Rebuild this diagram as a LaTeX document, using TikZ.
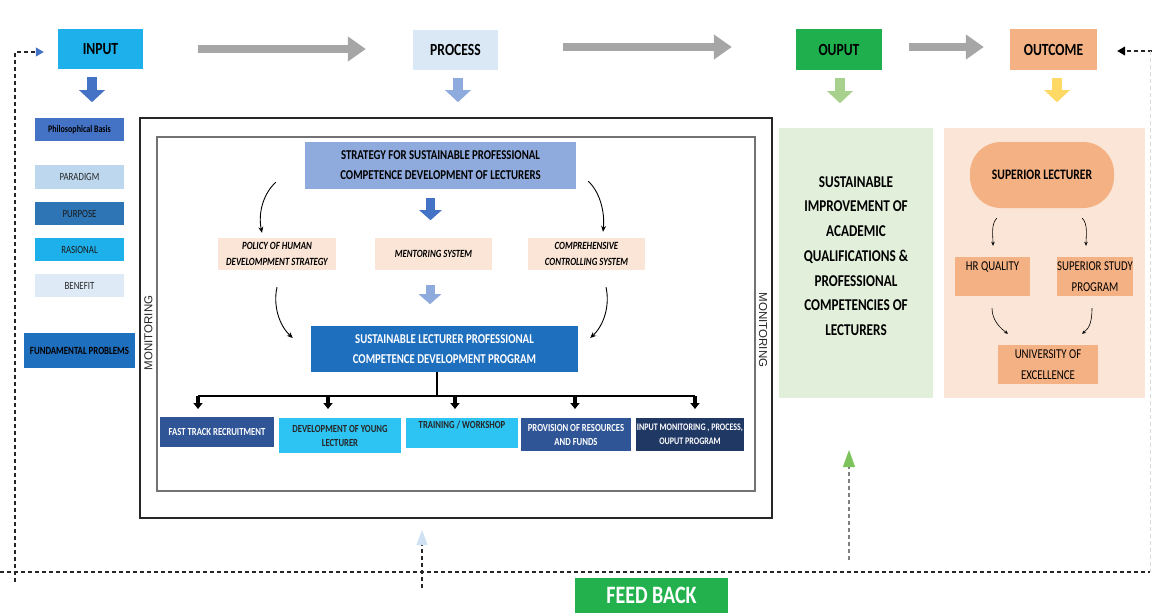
\documentclass[tikz,border=0pt]{standalone}
\usepackage{fontspec}
\setmainfont{Carlito}[FakeStretch=0.8]
\newfontfamily\monfont{Liberation Sans}
\usetikzlibrary{arrows.meta,calc}
\definecolor{cInput}{HTML}{1DB0EA}
\definecolor{cProc}{HTML}{DAE8F5}
\definecolor{cOut}{HTML}{1FAF4C}
\definecolor{cOutc}{HTML}{F4B183}
\definecolor{cGray}{HTML}{A6A6A6}
\definecolor{cA1}{HTML}{4472C4}
\definecolor{cA2}{HTML}{8FAADC}
\definecolor{cA3}{HTML}{A9D18E}
\definecolor{cA4}{HTML}{FFD966}
\definecolor{cPara}{HTML}{BDD7EE}
\definecolor{cPurp}{HTML}{2E75B6}
\definecolor{cBene}{HTML}{DEEBF7}
\definecolor{cFund}{HTML}{1F6FBF}
\definecolor{cStrat}{HTML}{8FAADC}
\definecolor{cPeach}{HTML}{FBE5D6}
\definecolor{cSus}{HTML}{1F6FBF}
\definecolor{cDark}{HTML}{2F5597}
\definecolor{cCyan}{HTML}{2DC3F3}
\definecolor{cNavy}{HTML}{203864}
\definecolor{cGreenReg}{HTML}{E2EFDA}
\definecolor{cFeed}{HTML}{22B14C}
\definecolor{cTipBlue}{HTML}{CFE2F3}
\definecolor{cTipGreen}{HTML}{7DC35B}
\newcommand{\fsz}[2]{\fontsize{#1pt}{#2pt}\selectfont}
\begin{document}
\begin{tikzpicture}[x=1pt,y=-1pt,
  bx/.style={inner sep=0pt, align=center},
  hdr/.style={bx, font=\fsz{17}{20}\bfseries},
  grayarr/.style={draw=cGray, line width=8pt, -{Triangle[width=24pt,length=18pt]}},
  blk/.style={line width=10pt, -{Triangle[width=25pt,length=12pt]}},
  blkm/.style={line width=9pt, -{Triangle[width=22pt,length=10pt]}},
  smallblk/.style={line width=3.5pt, -{Triangle[width=9pt,length=6pt]}, draw=black},
  curv/.style={-{Stealth[length=6pt,width=5pt]}, line width=0.9pt},
  curvs/.style={-{Stealth[length=4pt,width=3.5pt]}, line width=0.6pt},
  dsh/.style={dash pattern=on 4pt off 3pt, line width=1.1pt, draw=black!85},
  pch/.style={bx, fill=cPeach, minimum width=117pt, minimum height=32pt, font=\fsz{11}{16}\bfseries\itshape},
  bot/.style={bx, font=\fsz{10.8}{14}\bfseries},
  lft/.style={bx, minimum width=89pt, minimum height=23pt}
]
\useasboundingbox (0,0) rectangle (1152,613);

% top row
\node[hdr, fill=cInput, minimum width=85pt, minimum height=40pt] (inp) at (100.5,49) {INPUT};
\node[hdr, fill=cProc, minimum width=85pt, minimum height=40pt] (proc) at (455.5,50) {PROCESS};
\node[hdr, fill=cOut, minimum width=86pt, minimum height=41pt] (outp) at (839,49.5) {OUPUT};
\node[hdr, fill=cOutc, minimum width=87pt, minimum height=41pt] (outc) at (1053.5,49.5) {OUTCOME};

\draw[grayarr] ($(inp.east)+(55,0)$) -- ($(proc.west)+(-47,-1)$);
\draw[grayarr] ($(proc.east)+(65,-3)$) -- ($(outp.west)+(-64,-2.5)$);
\draw[grayarr] ($(outp.east)+(27,-2.5)$) -- ($(outc.west)+(-26,-2.5)$);

\draw[blk, cA1] ($(inp.south)+(-8.5,8)$) -- ++(0,25);
\draw[blk, cA2] ($(proc.south)+(2.5,8)$) -- ++(0,24);
\draw[blk, cA3] ($(outp.south)+(1,8)$) -- ++(0,25);
\draw[blk, cA4] ($(outc.south)+(3.5,8)$) -- ++(0,24);

% left column
\node[lft, fill=cA1, font=\fsz{10}{12}\bfseries] (phil) at (79.5,129.5) {Philosophical Basis};
\node[lft, fill=cPara, minimum height=24pt, font=\fsz{11}{12}, text=black!85] (para) at (79.5,177) {PARADIGM};
\node[lft, fill=cPurp, font=\fsz{11}{12}, text=black!90] (purp) at (79.5,213.5) {PURPOSE};
\node[lft, fill=cInput, font=\fsz{11}{12}, text=black!90] (rasi) at (79.5,249.5) {RASIONAL};
\node[lft, fill=cBene, font=\fsz{11}{12}, text=black!85] (bene) at (79.5,285.5) {BENEFIT};
\node[bx, fill=cFund, minimum width=111pt, minimum height=35pt, font=\fsz{11}{12}\bfseries] (fund) at (79.5,350.5) {FUNDAMENTAL PROBLEMS};

% process frames
\draw[line width=1.3pt, black!85] (140,118) rectangle (772,518);
\node[bx, draw=black!55, line width=1.1pt, minimum width=598pt, minimum height=354pt] (inner) at (456,314) {};
\node[bx, rotate=90, font=\monfont\fsz{11.5}{12}, text=black!85] (monl) at (148.5,333) {MONITORING};
\node[bx, rotate=-90, font=\monfont\fsz{11.5}{12}, text=black!85] (monr) at (763,330) {MONITORING};

\node[bx, fill=cStrat, minimum width=271pt, minimum height=47pt, font=\fsz{13.5}{20}\bfseries] (strat) at (440.5,165.5) {STRATEGY FOR SUSTAINABLE PROFESSIONAL\\COMPETENCE DEVELOPMENT OF LECTURERS};
\node[pch, minimum width=118pt] (pol) at (277,254) {POLICY OF HUMAN\\DEVELOMPMENT STRATEGY};
\node[pch] (ment) at (433.5,254) {MENTORING SYSTEM};
\node[pch] (comp) at (586.5,254) {COMPREHENSIVE\\CONTROLLING SYSTEM};
\node[bx, fill=cSus, minimum width=267pt, minimum height=46pt, text=white, font=\fsz{13.5}{20}\bfseries] (sus) at (444.5,349) {SUSTAINABLE LECTURER PROFESSIONAL\\COMPETENCE DEVELOPMENT PROGRAM};

\draw[blkm, cA1] ($(strat.south)+(-10,9)$) -- ++(0,22);
\draw[blkm, cA2] ($(ment.south)+(-3.5,15)$) -- ++(0,19);

\draw[curv] ($(strat.south west)+(-29,-7)$) .. controls +(-13,12) and +(-4,-19) .. ($(pol.north)+(-15,-5)$);
\draw[curv] ($(strat.south east)+(12,-8)$) .. controls +(12,11) and +(2,-19) .. ($(comp.north)+(16.5,-6)$);
\draw[curv] ($(pol.south)+(0,17)$) .. controls +(-4,18) and +(-14,-13) .. ($(sus.west)+(-18,-11)$);
\draw[curv] ($(comp.south)+(19.5,17)$) .. controls +(4,18) and +(14,-13) .. ($(sus.east)+(12,-11)$);

% program bus
\coordinate (bus) at (437,396);
\coordinate (b1) at (198,396);
\coordinate (b2) at (328,396);
\coordinate (b3) at (455,396);
\coordinate (b4) at (575,396);
\coordinate (b5) at (695,396);
\draw[line width=1.5pt] (sus.south -| bus) -- (bus);
\draw[line width=1.5pt] (b1) -- (b5);
\foreach \b in {b1,b2,b3,b4,b5} \draw[smallblk] (\b) -- ++(0,13);

\node[bot, fill=cDark, text=white, minimum width=114pt, minimum height=30pt] (ft) at (217,432) {FAST TRACK RECRUITMENT};
\node[bot, fill=cCyan, text=black!85, minimum width=122pt, minimum height=35pt] (dy) at (340,435.5) {DEVELOPMENT OF YOUNG\\LECTURER};
\node[bot, fill=cCyan, text=black!85, minimum width=112pt, minimum height=30pt] (tw) at (462,433) {TRAINING / WORKSHOP\\[2pt]\mbox{}};
\node[bot, fill=cDark, text=white, minimum width=110pt, minimum height=33pt] (pr) at (576,434.5) {PROVISION OF RESOURCES\\AND FUNDS};
\node[bot, fill=cNavy, text=white, minimum width=108pt, minimum height=33pt, font=\fsz{10}{14}\bfseries] (im) at (690,434.5) {INPUT MONITORING , PROCESS,\\OUPUT PROGRAM};

% output & outcome regions
\node[bx, fill=cGreenReg, minimum width=154pt, minimum height=270pt] (oreg) at (856,263) {};
\node[bx, font=\fsz{16.5}{24.7}\bfseries] (otxt) at (856,256) {SUSTAINABLE\\IMPROVEMENT OF\\ACADEMIC\\QUALIFICATIONS \&\\PROFESSIONAL\\COMPETENCIES OF\\LECTURERS};
\node[bx, fill=cPeach, minimum width=201pt, minimum height=270pt] (creg) at (1044.5,263) {};
\node[bx, fill=cOutc, minimum width=144pt, minimum height=66pt, rounded corners=31pt, font=\fsz{14.5}{16}\bfseries] (supl) at (1042,175) {SUPERIOR LECTURER};
\node[bx, fill=cOutc, minimum width=75pt, minimum height=39pt, font=\fsz{13.5}{21}] (hrq) at (992.5,276.5) {HR QUALITY\\\mbox{}};
\node[bx, fill=cOutc, minimum width=76pt, minimum height=39pt, font=\fsz{13.5}{21}] (ssp) at (1095,276.5) {SUPERIOR STUDY\\PROGRAM};
\node[bx, fill=cOutc, minimum width=100pt, minimum height=39pt, font=\fsz{13.5}{21}] (uni) at (1048,364.5) {UNIVERSITY OF\\EXCELLENCE};

\draw[curvs] ($(supl.south west)+(27,10)$) .. controls +(-6,6) and +(0,-10) .. ($(hrq.north)+(0.5,-11)$);
\draw[curvs] ($(supl.south east)+(-32,10)$) .. controls +(6,6) and +(0,-10) .. ($(ssp.north)+(-9,-11)$);
\draw[curvs] ($(hrq.south)+(-0.5,12)$) .. controls +(0,12) and +(-8,-6) .. ($(uni.north)+(-40,-11)$);
\draw[curvs] ($(ssp.south)+(-3,12)$) .. controls +(0,12) and +(8,-6) .. ($(uni.north)+(34,-11)$);

% feedback
\node[bx, fill=cFeed, text=white, minimum width=153pt, minimum height=37pt, font=\fsz{25}{28}\bfseries] (fb) at (651.5,596.5) {\raisebox{3pt}{FEED BACK}};
\coordinate (fl) at (0,572);
\coordinate (fr) at (1150,572);
\draw[dsh] (fl) -- (fr);
\draw[dsh, -{Triangle[width=9pt,length=8pt,color=cA1]}] (15,582) |- ($(inp.west)+(-14,3)$);
\draw[dsh, -{Triangle[width=9pt,length=8pt,color=black]}] (1152,51) -- ($(outc.east)+(20,1.5)$);
\draw[dash pattern=on 4pt off 3pt, line width=0.5pt, draw=black!15] (1150,51) -- (fr);
\draw[dsh, -{Triangle[width=11pt,length=15pt,color=cTipBlue]}] (422,588) -- (422,530);
\draw[dsh, draw=black!50, line width=1.4pt, -{Triangle[width=12pt,length=17pt,color=cTipGreen]}] (849,560) -- (849,450);
\end{tikzpicture}
\end{document}
